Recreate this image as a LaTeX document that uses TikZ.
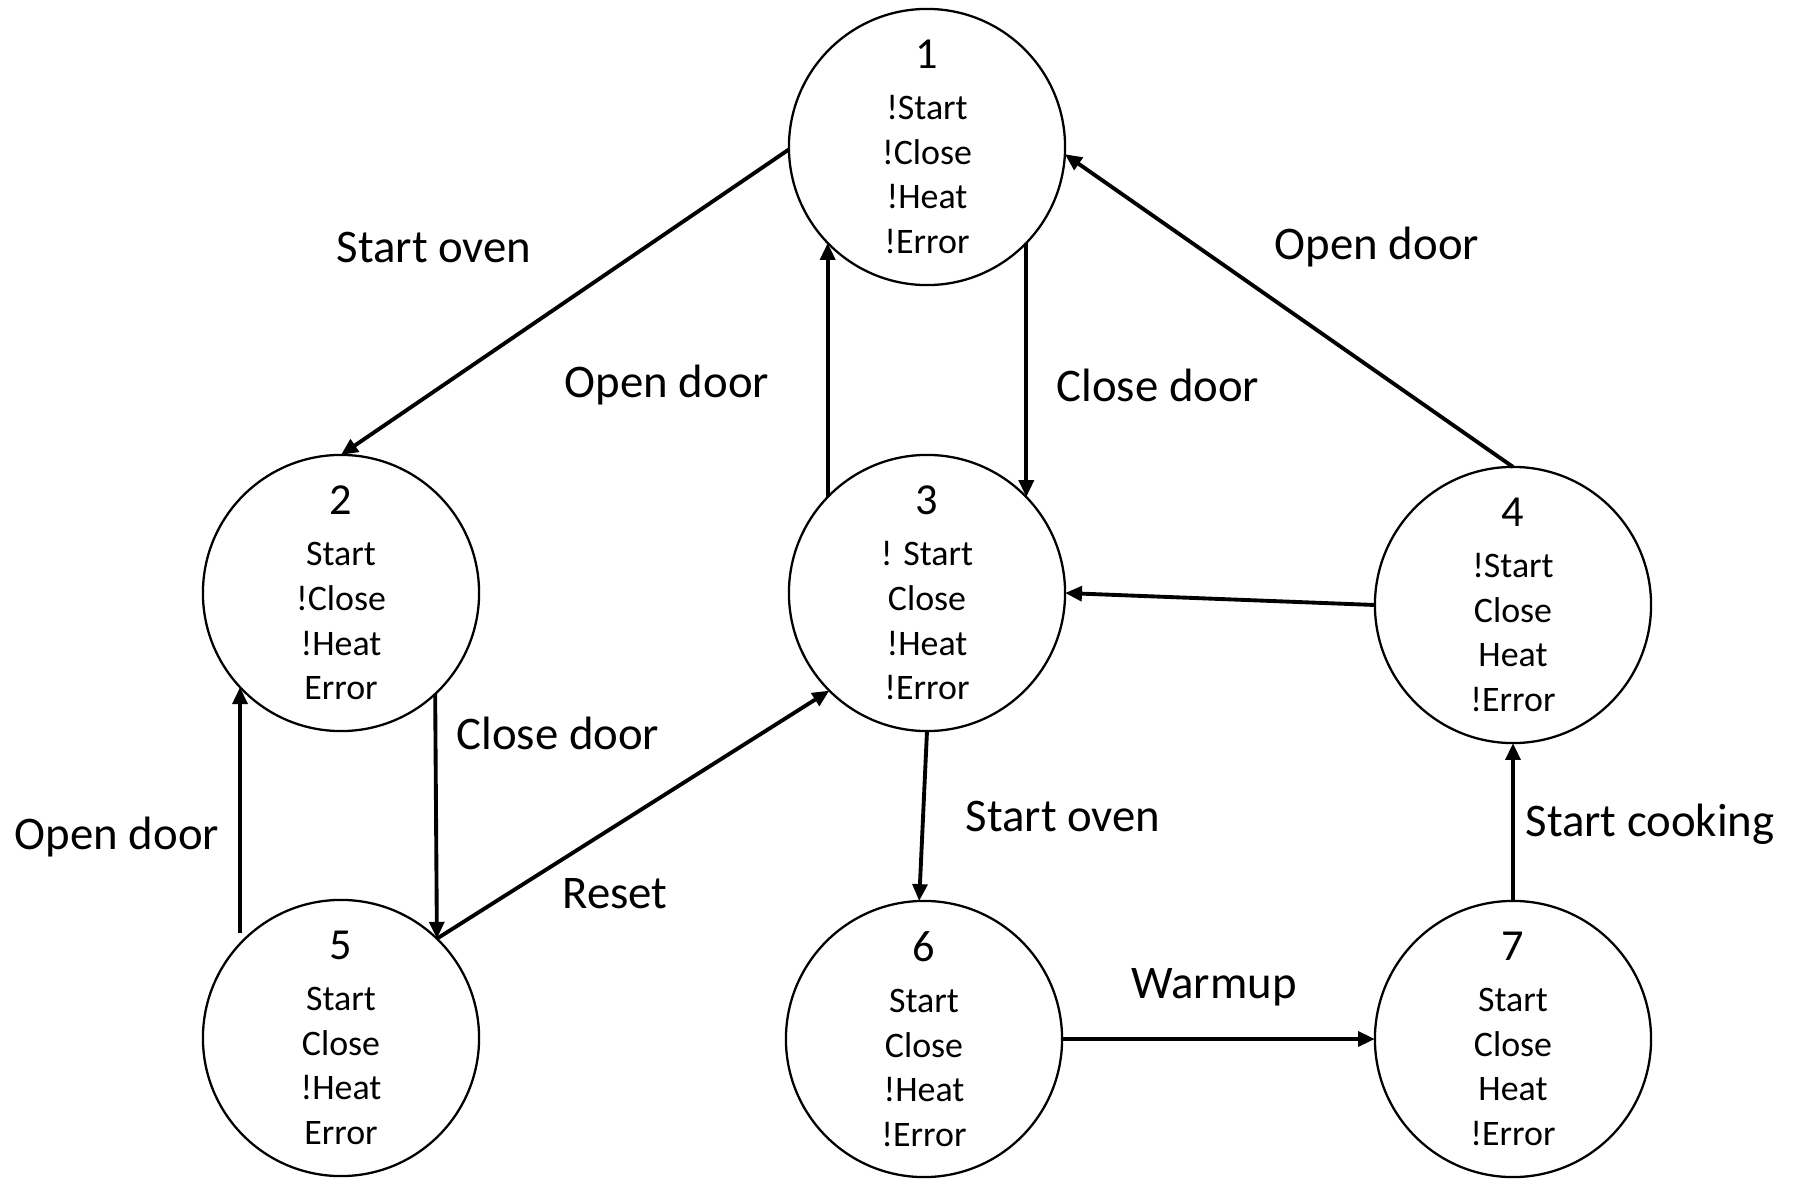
\documentclass[tikz,border=0pt]{standalone}
\usepackage{fontspec}
\setmainfont{Carlito}
\usetikzlibrary{arrows.meta}
\begin{document}
\begin{tikzpicture}[x=0.01cm,y=-0.01cm,
  state/.style={circle,draw,line width=0.65pt,minimum size=2.76cm,inner sep=0pt,outer sep=0pt,
    align=center,font=\fontsize{10.2}{12.7}\selectfont},
  trans/.style={line width=1.1pt,-{Triangle[length=4.8pt,width=4.2pt]}},
  lbl/.style={font=\fontsize{13.3}{16}\selectfont,inner sep=0pt}]
\useasboundingbox (0,0) rectangle (1793,1182);
\newcommand{\num}[1]{{\fontsize{12.6}{12.7}\selectfont #1}\\[1.8pt]}
% states
\node[state] (n1) at (927,147)  {\num{1}!Start\\!Close\\!Heat\\!Error};
\node[state] (n2) at (341,593)  {\num{2}Start\\!Close\\!Heat\\Error};
\node[state] (n3) at (927,593)  {\num{3}! Start\\Close\\!Heat\\!Error};
\node[state] (n4) at (1513,605) {\num{4}!Start\\Close\\Heat\\!Error};
\node[state] (n5) at (341,1038) {\num{5}Start\\Close\\!Heat\\Error};
\node[state] (n6) at (924,1039) {\num{6}Start\\Close\\!Heat\\!Error};
\node[state] (n7) at (1513,1039) {\num{7}Start\\Close\\Heat\\!Error};
% transitions
\draw[trans] (n1.181) -- (n2.north);
\draw[trans] (n3.136) -- (n1.224);
\draw[trans] (n1.316) -- (n3.44);
\draw[trans] (n4.north) -- (n1.357);
\draw[trans] (n4.west) -- (n3.east);
\draw[trans] (n2.313.5) -- (n5.46.5);
\draw[trans,shorten <=3pt] (n5.137) -- (n2.223);
\draw[trans] (n5.46.5) -- (n3.225);
\draw[trans] (n3.south) -- (n6.92);
\draw[trans] (n6.east) -- (n7.west);
\draw[trans] (n7.north) -- (n4.south);
% transition labels
\node[lbl] (l12) at (434,247) {Start oven};
\node[lbl] (l31) at (667,385) {Open door};
\node[lbl] (l13) at (1158,385) {Close door};
\node[lbl] (l41) at (1377,247) {Open door};
\node[lbl] (l25) at (558,733) {Close door};
\node[lbl] (l52) at (117,837) {Open door};
\node[lbl] (l53) at (615,894) {Reset};
\node[lbl] (l36) at (1063,816) {Start oven};
\node[lbl] (l67) at (1214,987) {Warmup};
\node[lbl] (l74) at (1650,824) {Start cooking};
\end{tikzpicture}
\end{document}
